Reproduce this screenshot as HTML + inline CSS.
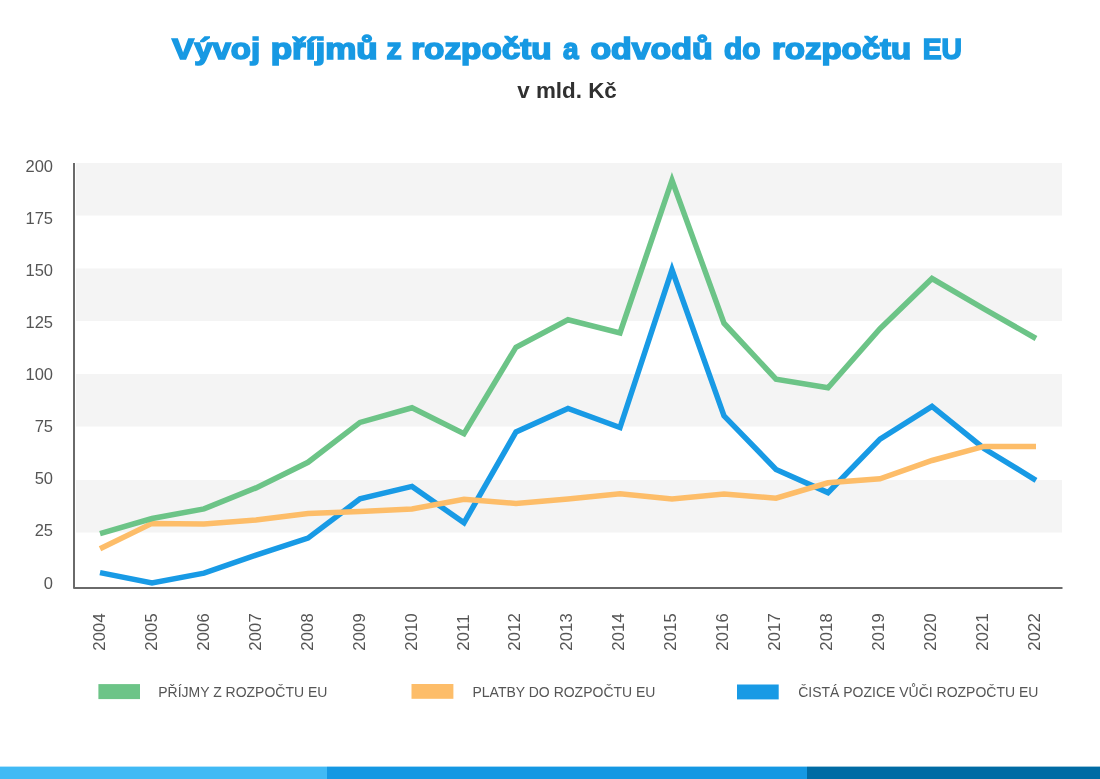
<!DOCTYPE html>
<html><head><meta charset="utf-8"><style>
html,body{margin:0;padding:0;background:#fff;}
body{width:1100px;height:779px;overflow:hidden;position:relative;}
svg{position:absolute;left:0;top:0;will-change:transform;}
</style></head><body>
<svg width="1100" height="779" viewBox="0 0 1100 779">
<rect x="0" y="0" width="1100" height="779" fill="#fff"/>
<g font-family="Liberation Sans, sans-serif" font-weight="bold" font-size="29.5" fill="#1799e3" stroke="#1799e3" stroke-width="1.6"><text transform="translate(172.12,59.4) scale(1.1192,1)">Vývoj</text><text transform="translate(270.71,59.4) scale(1.1875,1)">příjmů</text><text transform="translate(386.50,59.4) scale(1.0286,1)">z</text><text transform="translate(411.17,59.4) scale(1.1287,1)">rozpočtu</text><text transform="translate(562.90,59.4) scale(0.9471,1)">a</text><text transform="translate(590.40,59.4) scale(1.1476,1)">odvodů</text><text transform="translate(724.00,59.4) scale(1.0139,1)">do</text><text transform="translate(771.88,59.4) scale(1.1197,1)">rozpočtu</text><text transform="translate(922.64,59.4) scale(0.9590,1)">EU</text></g>
<text x="567" y="97.7" text-anchor="middle" font-family="Liberation Sans, sans-serif" font-weight="bold" font-size="22.4" fill="#303030">v mld. Kč</text>
<rect x="76" y="163" width="986" height="52.5" fill="#f4f4f4"/><rect x="76" y="268.5" width="986" height="52.5" fill="#f4f4f4"/><rect x="76" y="374" width="986" height="52.5" fill="#f4f4f4"/><rect x="76" y="480" width="986" height="52.5" fill="#f4f4f4"/>
<g font-family="Liberation Sans, sans-serif" font-size="16.5" fill="#555555"><text x="53" y="171.8" text-anchor="end">200</text><text x="53" y="223.9" text-anchor="end">175</text><text x="53" y="276.0" text-anchor="end">150</text><text x="53" y="328.1" text-anchor="end">125</text><text x="53" y="380.2" text-anchor="end">100</text><text x="53" y="432.3" text-anchor="end">75</text><text x="53" y="484.3" text-anchor="end">50</text><text x="53" y="536.4" text-anchor="end">25</text><text x="53" y="588.5" text-anchor="end">0</text><text transform="translate(104.8,650.7) rotate(-90)" text-anchor="start" font-size="16.6" letter-spacing="0.15">2004</text><text transform="translate(156.8,650.7) rotate(-90)" text-anchor="start" font-size="16.6" letter-spacing="0.15">2005</text><text transform="translate(208.7,650.7) rotate(-90)" text-anchor="start" font-size="16.6" letter-spacing="0.15">2006</text><text transform="translate(260.7,650.7) rotate(-90)" text-anchor="start" font-size="16.6" letter-spacing="0.15">2007</text><text transform="translate(312.6,650.7) rotate(-90)" text-anchor="start" font-size="16.6" letter-spacing="0.15">2008</text><text transform="translate(364.6,650.7) rotate(-90)" text-anchor="start" font-size="16.6" letter-spacing="0.15">2009</text><text transform="translate(416.5,650.7) rotate(-90)" text-anchor="start" font-size="16.6" letter-spacing="0.15">2010</text><text transform="translate(468.5,650.7) rotate(-90)" text-anchor="start" font-size="16.6" letter-spacing="0.15">2011</text><text transform="translate(520.4,650.7) rotate(-90)" text-anchor="start" font-size="16.6" letter-spacing="0.15">2012</text><text transform="translate(572.4,650.7) rotate(-90)" text-anchor="start" font-size="16.6" letter-spacing="0.15">2013</text><text transform="translate(624.3,650.7) rotate(-90)" text-anchor="start" font-size="16.6" letter-spacing="0.15">2014</text><text transform="translate(676.3,650.7) rotate(-90)" text-anchor="start" font-size="16.6" letter-spacing="0.15">2015</text><text transform="translate(728.2,650.7) rotate(-90)" text-anchor="start" font-size="16.6" letter-spacing="0.15">2016</text><text transform="translate(780.2,650.7) rotate(-90)" text-anchor="start" font-size="16.6" letter-spacing="0.15">2017</text><text transform="translate(832.1,650.7) rotate(-90)" text-anchor="start" font-size="16.6" letter-spacing="0.15">2018</text><text transform="translate(884.1,650.7) rotate(-90)" text-anchor="start" font-size="16.6" letter-spacing="0.15">2019</text><text transform="translate(936.0,650.7) rotate(-90)" text-anchor="start" font-size="16.6" letter-spacing="0.15">2020</text><text transform="translate(988.0,650.7) rotate(-90)" text-anchor="start" font-size="16.6" letter-spacing="0.15">2021</text><text transform="translate(1039.9,650.7) rotate(-90)" text-anchor="start" font-size="16.6" letter-spacing="0.15">2022</text></g>
<polyline points="74,163 74,588 1062.5,588" fill="none" stroke="#6a6a6a" stroke-width="2" stroke-linejoin="round"/>
<polyline points="100.0,572.6 152.0,583.0 204.0,573.2 256.0,555.2 308.0,538.1 360.0,498.9 412.0,486.4 464.0,522.8 516.0,431.9 568.0,408.5 620.0,427.5 672.0,269.8 724.0,415.8 776.0,469.4 828.0,492.6 880.0,439.1 932.0,406.4 984.0,448.5 1036.0,480.3" fill="none" stroke="#189ae5" stroke-width="5.5" stroke-linejoin="miter" stroke-miterlimit="10"/>
<polyline points="100.0,548.8 152.0,523.4 204.0,524.0 256.0,520.0 308.0,513.4 360.0,511.4 412.0,509.0 464.0,499.2 516.0,503.4 568.0,499.0 620.0,493.8 672.0,499.0 724.0,494.0 776.0,498.2 828.0,482.8 880.0,478.8 932.0,460.5 984.0,446.4 1036.0,446.4" fill="none" stroke="#fdbd69" stroke-width="5.5" stroke-linejoin="miter" stroke-miterlimit="10"/>
<polyline points="100.0,533.6 152.0,518.5 204.0,508.9 256.0,487.9 308.0,462.3 360.0,422.4 412.0,407.8 464.0,433.7 516.0,347.2 568.0,319.8 620.0,333.0 672.0,180.2 724.0,323.2 776.0,379.2 828.0,387.7 880.0,328.7 932.0,278.5 984.0,308.8 1036.0,338.5" fill="none" stroke="#6cc487" stroke-width="5.5" stroke-linejoin="miter" stroke-miterlimit="10"/>
<rect x="98.4" y="684.1" width="41.6" height="15" fill="#6cc487"/>
<rect x="411.5" y="684" width="41.9" height="14.8" fill="#fdbd69"/>
<rect x="737" y="684.5" width="41.7" height="14.9" fill="#189ae5"/>
<g font-family="Liberation Sans, sans-serif" font-size="14" fill="#555555">
<text transform="translate(158.2,697) scale(1,1.08)">PŘÍJMY Z ROZPOČTU EU</text>
<text transform="translate(472.5,697) scale(1,1.08)">PLATBY DO ROZPOČTU EU</text>
<text transform="translate(798.2,697) scale(1,1.08)">ČISTÁ POZICE VŮČI ROZPOČTU EU</text>
</g>
<rect x="0" y="766.6" width="327" height="12.4" fill="#41baf5"/>
<rect x="327" y="766.6" width="480" height="12.4" fill="#1598e3"/>
<rect x="807" y="766.6" width="293" height="12.4" fill="#006ba4"/>
</svg>
</body></html>
